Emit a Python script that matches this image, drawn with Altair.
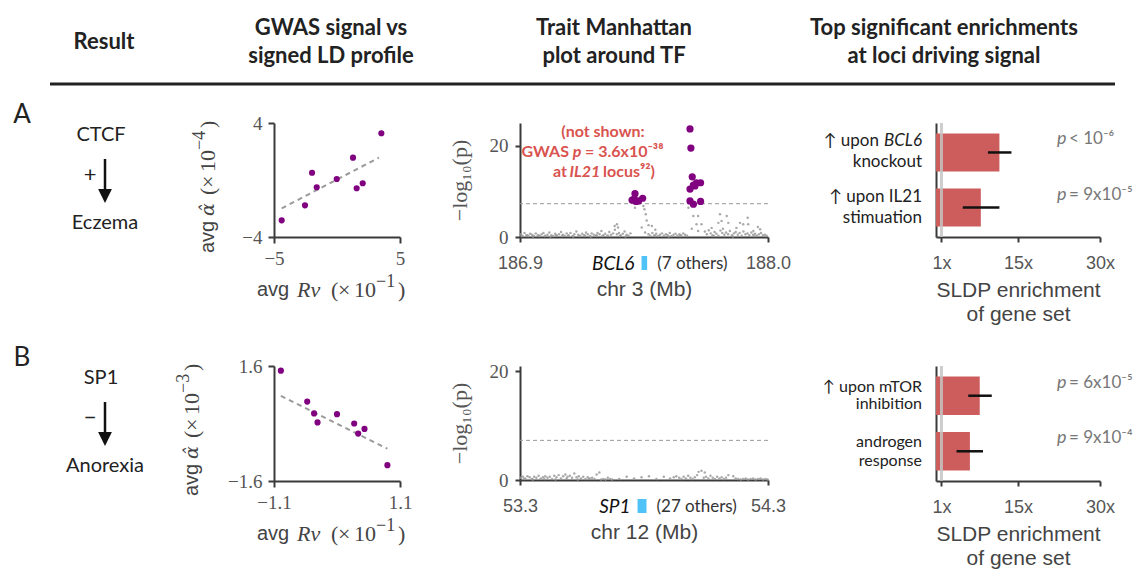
import altair as alt
import pandas as pd

# ---------------- data ----------------
# Panel A scatter: CTCF -> Eczema
scA_x = [-4.39, -2.54, -1.98, -1.61, -0.02, 1.27, 1.56, 2.04, 3.52]
scA_y = [-2.83, -1.78, 0.51, -0.51, 0.07, 1.57, -0.58, -0.23, 3.28]
fitA_x = [-4.39, 3.33]
fitA_y = [-1.99, 1.57]
# Panel B scatter: SP1 -> Anorexia
scB_x = [-0.98, -0.52, -0.40, -0.34, 0.0, 0.30, 0.37, 0.48, 0.88]
scB_y = [1.47, 0.61, 0.28, 0.03, 0.26, 0.0, -0.28, -0.15, -1.16]
fitB_x = [-0.98, 0.88]
fitB_y = [0.77, -0.70]

# Panel A Manhattan (chr 3, Mb; -log10 p)
sigA = [(187.397, 8.1), (187.406, 8.3), (187.410, 9.5), (187.415, 7.8), (187.426, 7.9),
        (187.444, 8.5), (187.654, 23.7), (187.658, 19.5), (187.664, 13.2), (187.654, 10.5),
        (187.669, 11.4), (187.676, 11.2), (187.683, 11.9), (187.701, 11.9), (187.654, 7.9),
        (187.669, 7.2), (187.701, 7.8)]
grayA = [
    (186.902, 0.6), (186.911, 0.3), (186.920, 0.9), (186.928, 0.4), (186.937, 0.2), (186.945, 0.7),
    (186.953, 0.5), (186.962, 0.3), (186.970, 0.8), (186.979, 0.4), (186.988, 0.2), (186.996, 0.6),
    (187.004, 0.9), (187.013, 0.3), (187.022, 0.5), (187.030, 1.0), (187.039, 0.4), (187.047, 0.2),
    (187.056, 0.7), (187.064, 0.3), (187.073, 0.6), (187.082, 1.1), (187.090, 0.5), (187.098, 0.3),
    (187.107, 0.8), (187.116, 0.4), (187.124, 0.9), (187.133, 0.2), (187.141, 0.6), (187.150, 1.2),
    (187.158, 0.5), (187.167, 0.3), (187.176, 0.7), (187.184, 0.4), (187.193, 1.0), (187.201, 0.6),
    (187.210, 0.2), (187.218, 0.8), (187.227, 0.5), (187.236, 0.3), (187.244, 0.9), (187.253, 0.6),
    (187.261, 1.3), (187.270, 0.4), (187.278, 0.7), (187.287, 0.3), (187.296, 1.1), (187.304, 0.5),
    (187.313, 0.8), (187.321, 1.6), (187.330, 0.6), (187.339, 0.9), (187.347, 0.4), (187.356, 0.7),
    (187.364, 1.2), (187.373, 0.5), (187.381, 0.3), (187.390, 0.8), (187.470, 0.6), (187.478, 0.3),
    (187.487, 0.9), (187.495, 0.4), (187.504, 0.7), (187.512, 0.2), (187.521, 0.5), (187.530, 0.8),
    (187.538, 0.3), (187.547, 0.6), (187.555, 0.4), (187.564, 0.9), (187.572, 0.2), (187.581, 0.5),
    (187.590, 0.7), (187.598, 0.3), (187.607, 0.6), (187.615, 0.4), (187.624, 0.8), (187.632, 0.5),
    (187.641, 0.3), (187.720, 1.2), (187.729, 0.6), (187.737, 1.5), (187.746, 0.8), (187.754, 0.4),
    (187.763, 1.1), (187.771, 0.7), (187.780, 0.3), (187.789, 1.4), (187.797, 0.9), (187.806, 0.5),
    (187.814, 1.0), (187.823, 0.6), (187.831, 1.3), (187.840, 0.4), (187.849, 0.8), (187.857, 1.1),
    (187.866, 0.5), (187.874, 0.9), (187.883, 0.3), (187.891, 1.2), (187.900, 0.6), (187.909, 0.8),
    (187.917, 0.4), (187.926, 1.0), (187.934, 0.5), (187.943, 0.7), (187.951, 0.3), (187.960, 0.6),
    (187.969, 0.9), (187.977, 0.4), (187.986, 0.5), (187.994, 0.3),
    (186.907, 0.2), (186.933, 0.4), (186.958, 0.1), (186.984, 0.3), (187.009, 0.2), (187.035, 0.1),
    (187.060, 0.4), (187.086, 0.2), (187.112, 0.3), (187.137, 0.1), (187.163, 0.2), (187.189, 0.3),
    (187.214, 0.1), (187.240, 0.4), (187.265, 0.2), (187.291, 0.3), (187.343, 0.2), (187.368, 0.1),
    (187.500, 0.2), (187.560, 0.1), (187.610, 0.2), (187.760, 0.2), (187.845, 0.1), (187.940, 0.2),
    (187.320, 2.4), (187.330, 2.8), (187.335, 2.1), (187.410, 6.4), (187.447, 6.8), (187.452, 6.1),
    (187.458, 5.0), (187.462, 3.6), (187.470, 2.6), (187.485, 2.4), (187.440, 2.1), (187.455, 1.0),
    (187.500, 1.6), (187.647, 6.4), (187.669, 4.6), (187.690, 4.6), (187.683, 2.8), (187.705, 2.8),
    (187.690, 1.3), (187.662, 1.8), (187.750, 2.0), (187.787, 5.0), (187.794, 3.5), (187.780, 3.1),
    (187.817, 4.6), (187.824, 3.1), (187.876, 3.1), (187.890, 2.8), (187.910, 4.2), (187.912, 2.8),
    (187.860, 2.0), (187.935, 1.3), (187.965, 1.7), (187.955, 2.2), (187.800, 1.8),
]
geneA = ("BCL6", 187.439, 187.464, "(7 others)")

# Panel B Manhattan (chr 12)
grayB = [
    (53.303, 0.4), (53.312, 0.6), (53.321, 0.3), (53.330, 0.7), (53.339, 0.5), (53.348, 0.2),
    (53.357, 0.6), (53.366, 0.4), (53.375, 0.8), (53.384, 0.3), (53.393, 0.5), (53.402, 0.7),
    (53.411, 0.4), (53.420, 0.6), (53.429, 0.2), (53.438, 0.8), (53.447, 0.5), (53.456, 0.9),
    (53.465, 0.3), (53.474, 0.7), (53.483, 1.0), (53.492, 0.6), (53.501, 0.8), (53.510, 0.4),
    (53.519, 1.2), (53.528, 0.5), (53.537, 0.7), (53.546, 0.3), (53.555, 0.6), (53.564, 0.2),
    (53.573, 0.5), (53.582, 0.3), (53.591, 0.4), (53.600, 0.2), (53.609, 1.0), (53.620, 1.4),
    (53.627, 0.1), (53.636, 0.2), (53.645, 0.1), (53.654, 0.4), (53.663, 0.2), (53.672, 0.1),
    (53.700, 0.2), (53.730, 0.6), (53.760, 0.3), (53.790, 0.5), (53.820, 0.7), (53.850, 0.2),
    (53.880, 0.6), (53.905, 0.3), (53.920, 0.5), (53.930, 0.7), (53.942, 0.4), (53.951, 0.2),
    (53.960, 0.6), (53.969, 0.3), (53.978, 0.8), (53.987, 0.4), (53.996, 0.2), (54.005, 0.5),
    (54.014, 0.9), (54.020, 1.5), (54.032, 1.7), (54.045, 1.4), (54.041, 0.4), (54.050, 0.6),
    (54.059, 0.3), (54.068, 0.8), (54.077, 0.4), (54.086, 0.2), (54.095, 0.6), (54.104, 0.3),
    (54.113, 0.5), (54.122, 0.2), (54.131, 0.4), (54.140, 0.9), (54.160, 0.7), (54.170, 0.3),
    (54.180, 0.2), (54.190, 0.1), (54.200, 0.2), (54.210, 0.3), (54.220, 0.1), (54.230, 0.2),
    (54.240, 0.3), (54.250, 0.1), (54.260, 0.2), (54.270, 0.3), (54.280, 0.1), (54.290, 0.2),
    (54.298, 0.1), (53.316, 0.2), (53.352, 0.1), (53.398, 0.2), (53.443, 0.1), (53.488, 0.3),
    (53.533, 0.1), (53.578, 0.2),
]
geneB = ("SP1", 53.774, 53.810, "(27 others)")

# Enrichment bars
barsA_set = ["upon BCL6 knockout", "upon IL21 stimuation"]
barsA_val = [11.6, 8.2]
barsA_lo = [9.5, 4.9]
barsA_hi = [13.8, 11.6]
barsA_p = ["< 10⁻⁶", "= 9x10⁻⁵"]
barsB_set = ["upon mTOR inhibition", "androgen response"]
barsB_val = [8.0, 6.2]
barsB_lo = [5.9, 3.75]
barsB_hi = [10.2, 8.6]
barsB_p = ["= 6x10⁻⁵", "= 9x10⁻⁴"]

# ---------------- styling ----------------
ONE = pd.DataFrame({"k": [0]})
SANS = "Lato"
HELV = "Liberation Sans"
SERIF = "Liberation Serif"
PURPLE = "#800080"
AXC = "#3a3a3a"
RED = "#d9534f"
TCOL = "#444"


def txt(s, x, y, size=18, font=SANS, color="#222", align="center", weight="normal",
        style="normal", angle=None, baseline="middle", lh=None):
    kw = dict(text=s, align=align, baseline=baseline, fontSize=size, font=font,
              color=color, fontWeight=weight, fontStyle=style)
    if angle is not None:
        kw["angle"] = angle
    if lh is not None:
        kw["lineHeight"] = lh
    return alt.Chart(ONE).mark_text(**kw).encode(x=alt.value(x), y=alt.value(y))


def spacer(w, h):
    return alt.Chart(ONE).mark_point(opacity=0, size=1).encode(
        x=alt.value(w / 2), y=alt.value(h / 2)).properties(width=w, height=h)


def axis_common(**kw):
    base = dict(domainColor=AXC, domainWidth=2, tickColor=AXC, tickWidth=2, tickSize=6,
                grid=False, labelFlush=False, labelColor="#555", labelOverlap=False)
    base.update(kw)
    return alt.Axis(**base)


def math_title(pieces, x0, y0, vertical=False):
    """pieces: (text, offset along the title, font, size, style, raise)"""
    out = []
    for (t, off, font, size, style, up) in pieces:
        if vertical:
            out.append(txt(t, x0 - up, y0 - off, size=size, font=font, style=style,
                           color=TCOL, align="left", angle=270))
        else:
            out.append(txt(t, x0 + off, y0 - up, size=size, font=font, style=style,
                           color=TCOL, align="left"))
    return out


# ---------------- header ----------------
header = alt.layer(
    txt("Result", 104, 42, size=22, weight="bold"),
    txt(["GWAS signal vs", "signed LD profile"], 331, 28, size=22, weight="bold", lh=28),
    txt(["Trait Manhattan", "plot around TF"], 614, 28, size=22, weight="bold", lh=28),
    txt(["Top significant enrichments", "at loci driving signal"], 944, 28, size=22,
        weight="bold", lh=28),
    alt.Chart(ONE).mark_rule(color="#222", strokeWidth=3).encode(
        x=alt.value(50), x2=alt.value(1115), y=alt.value(84)),
).properties(width=274, height=123)


def row_label(letter, tf, sign, trait):
    return alt.layer(
        txt(letter, 22, -8, size=26),
        txt(tf, 101, 12, size=20),
        alt.Chart(ONE).mark_rule(color="#111", strokeWidth=2.5).encode(
            x=alt.value(105), y=alt.value(36), y2=alt.value(70)),
        alt.Chart(ONE).mark_point(shape="M-1,-1L1,-1L0,1Z", size=190, filled=True,
                                  color="#111", opacity=1).encode(
            x=alt.value(105), y=alt.value(73)),
        txt(sign, 90, 52, size=22),
        txt(trait, 105, 100, size=20),
    )


labelA = row_label("A", "CTCF", "+", "Eczema").properties(width=274, height=243)
labelB = row_label("B", "SP1", "−", "Anorexia").properties(width=274, height=204)


# ---------------- scatter ----------------
def scatter(xs, ys, fx, fy, xdom, ydom, yfmt, expo, h, ytitle_x):
    xsc = alt.Scale(domain=xdom, nice=False, zero=False)
    ysc = alt.Scale(domain=ydom, nice=False, zero=False)
    xax = axis_common(values=xdom, format=yfmt, title=None, labelFont=SERIF, labelFontSize=19,
                      labelPadding=6)
    yax = axis_common(values=ydom, format=yfmt, title=None, labelFont=SERIF, labelFontSize=19,
                      labelPadding=6)
    fit = alt.Chart(pd.DataFrame({"x": fx, "y": fy})).mark_line(
        color="#9a9a9a", strokeWidth=2, strokeDash=[5, 4]).encode(
        x=alt.X("x:Q", scale=xsc, axis=xax), y=alt.Y("y:Q", scale=ysc, axis=yax))
    pts = alt.Chart(pd.DataFrame({"x": xs, "y": ys})).mark_circle(
        size=38, color=PURPLE, opacity=1).encode(x="x:Q", y="y:Q")
    xt = [("avg", -17, HELV, 20, "normal", 0), ("Rv", 23, SERIF, 22, "italic", 0),
          ("(", 57, SERIF, 22, "normal", 0), ("×", 64, SERIF, 22, "normal", 0),
          ("10", 80, SERIF, 22, "normal", 0), ("−1", 102, SERIF, 18, "normal", 8),
          (")", 124, SERIF, 22, "normal", 0)]
    yt = [("avg", 0, HELV, 20, "normal", 0), ("α̂", 37, "DejaVu Serif", 19, "italic", 0),
          ("(", 58, SERIF, 22, "normal", 0), ("×", 65, SERIF, 22, "normal", 0),
          ("10", 81, SERIF, 22, "normal", 0), (expo, 103, SERIF, 18, "normal", 8),
          (")", 125, SERIF, 22, "normal", 0)]
    layers = [fit, pts] + math_title(xt, 0, h + 53) + math_title(yt, ytitle_x, 130, vertical=True)
    return alt.layer(*layers).properties(width=126, height=h)


scatterA = scatter(scA_x, scA_y, fitA_x, fitA_y, [-5, 5], [-4, 4], "d", "−4", 114, -66)
scatterB = scatter(scB_x, scB_y, fitB_x, fitB_y, [-1.1, 1.1], [-1.6, 1.6], ".1f", "−3", 115, -82)


# ---------------- manhattan ----------------
def manhattan(gray, sig, xdom, ymax, gene, xtitle, extra):
    xsc = alt.Scale(domain=xdom, nice=False, zero=False)
    ysc = alt.Scale(domain=[0, ymax], nice=False)
    xax = axis_common(values=xdom, format=".1f", title=xtitle, labelFont=HELV, labelFontSize=18,
                      labelPadding=12, tickSize=5, titleFont=HELV, titleFontSize=21,
                      titleFontWeight="normal", titleColor=TCOL, titlePadding=6)
    yax = axis_common(values=[0, 20], title="−log₁₀(p)", labelFont=SERIF, labelFontSize=19,
                      labelPadding=7, tickSize=5, titleFont=SERIF, titleFontSize=22,
                      titleFontWeight="normal", titleColor="#555", titlePadding=18)
    gdf = pd.DataFrame(gray, columns=["pos", "val"])
    layers = [
        alt.Chart(gdf).mark_circle(size=6, color="#9a9a9a", opacity=0.85).encode(
            x=alt.X("pos:Q", scale=xsc, axis=xax), y=alt.Y("val:Q", scale=ysc, axis=yax)),
        alt.Chart(ONE).mark_rule(color="#9a9a9a", strokeWidth=1, strokeDash=[4, 3]).encode(
            y=alt.datum(7.3)),
    ]
    if sig:
        sdf = pd.DataFrame(sig, columns=["pos", "val"])
        layers.append(alt.Chart(sdf).mark_circle(size=52, color=PURPLE, opacity=1).encode(
            x="pos:Q", y="val:Q"))
    name, g0, g1, others = gene
    gd = pd.DataFrame({"pos": [g0], "pos2": [g1]})
    layers += [
        alt.Chart(gd).mark_rect(color="#4fc3f7").encode(
            x="pos:Q", x2="pos2:Q", y=alt.value(133), y2=alt.value(147)),
        alt.Chart(gd).mark_text(text=name, align="right", baseline="middle", dx=-7, fontSize=19,
                                font=SANS, fontStyle="italic", color="#111").encode(
            x="pos:Q", y=alt.value(141)),
        alt.Chart(gd).mark_text(text=others, align="left", baseline="middle", dx=10, fontSize=17,
                                font=SANS, color="#333").encode(
            x="pos2:Q", y=alt.value(141)),
    ]
    layers += extra
    return alt.layer(*layers).properties(width=248, height=114)


redA = [
    txt("(not shown:", 83, 9, size=16, color=RED, weight="bold"),
    txt("GWAS", 49, 29, size=16, color=RED, weight="bold", align="right"),
    txt("p", 57, 29, size=16, color=RED, weight="bold", style="italic"),
    txt("= 3.6x10⁻³⁸", 65, 29, size=16, color=RED, weight="bold", align="left"),
    txt("at", 47, 49, size=16, color=RED, weight="bold", align="right"),
    txt("IL21", 65, 49, size=16, color=RED, weight="bold", style="italic"),
    txt("locus⁹²)", 83, 49, size=16, color=RED, weight="bold", align="left"),
]

manhA = manhattan(grayA, sigA, [186.9, 188.0], 25, geneA, "chr 3 (Mb)", redA)
manhB = manhattan(grayB, [], [53.3, 54.3], 21, geneB, "chr 12 (Mb)", [])


# ---------------- enrichment bars ----------------
def bars(sets, vals, lo, hi, pvals, labels, h, lsize):
    df = pd.DataFrame({"set": sets, "val": vals, "lo": lo, "hi": hi})
    xsc = alt.Scale(domain=[0, 30], nice=False)
    ysc = alt.Scale(domain=sets, paddingInner=0.31, paddingOuter=0.19)
    xax = axis_common(values=[1, 15, 30], labelExpr="datum.value + 'x'", labelFont=HELV,
                      labelFontSize=18, labelPadding=12, tickSize=5,
                      title=["SLDP enrichment", "of gene set"], titleFont=HELV, titleFontSize=21,
                      titleFontWeight="normal", titleColor=TCOL, titlePadding=7,
                      titleLineHeight=24)
    yax = alt.Axis(labels=False, ticks=False, title=None, domainColor=AXC, domainWidth=2, grid=False)
    layers = [
        alt.Chart(df).mark_bar(color="#cd5c5c").encode(
            x=alt.X("val:Q", scale=xsc, axis=xax), y=alt.Y("set:N", scale=ysc, axis=yax)),
        alt.Chart(ONE).mark_rule(color="#c4c4c4", strokeWidth=3, opacity=0.85).encode(
            x=alt.datum(1)),
        alt.Chart(df).mark_rule(color="#111", strokeWidth=2.5).encode(
            x="lo:Q", x2="hi:Q", y="set:N"),
    ]
    for s, pv in zip(sets, pvals):
        one = pd.DataFrame({"set": [s]})
        layers.append(alt.Chart(one).mark_text(text="p", align="left", baseline="middle", dy=-13,
                                               fontSize=18, font=SANS, fontStyle="italic",
                                               color="#777").encode(x=alt.value(121), y="set:N"))
        layers.append(alt.Chart(one).mark_text(text=pv, align="left", baseline="middle", dy=-13,
                                               fontSize=17, font=SANS, color="#777").encode(
            x=alt.value(133), y="set:N"))
    for s, pieces in zip(sets, labels):
        one = pd.DataFrame({"set": [s]})
        for (t, x, dy, style) in pieces:
            layers.append(alt.Chart(one).mark_text(text=t, align="right", baseline="middle", dy=dy,
                                                   fontSize=lsize, font=SANS, fontStyle=style,
                                                   color="#222").encode(
                x=alt.value(x), y="set:N"))
    return alt.layer(*layers).properties(width=164, height=h)


labA = [
    [("BCL6", -14, -11, "italic"), ("↑ upon", -57, -11, "normal"), ("knockout", -14, 10, "normal")],
    [("↑ upon IL21", -14, -11, "normal"), ("stimuation", -14, 10, "normal")],
]
labB = [
    [("↑ upon mTOR", -14, -9, "normal"), ("inhibition", -14, 8, "normal")],
    [("androgen", -14, -9, "normal"), ("response", -14, 10, "normal")],
]
barsA = bars(barsA_set, barsA_val, barsA_lo, barsA_hi, barsA_p, labA, 114, 17)
barsB = bars(barsB_set, barsB_val, barsB_lo, barsB_hi, barsB_p, labB, 115, 16)

# ---------------- layout ----------------
cells = [
    header, spacer(126, 123), spacer(120, 123), spacer(248, 123), spacer(168, 123), spacer(164, 123),
    labelA, scatterA, spacer(120, 10), manhA, spacer(168, 10), barsA,
    labelB, scatterB, spacer(120, 10), manhB, spacer(168, 10), barsB,
]

chart = alt.concat(*cells, columns=6, spacing=0, bounds="flush", align="each").properties(
    padding=0
).configure_view(stroke=None)

chart.save("out.html", embed_options={"renderer": "svg", "actions": False})
